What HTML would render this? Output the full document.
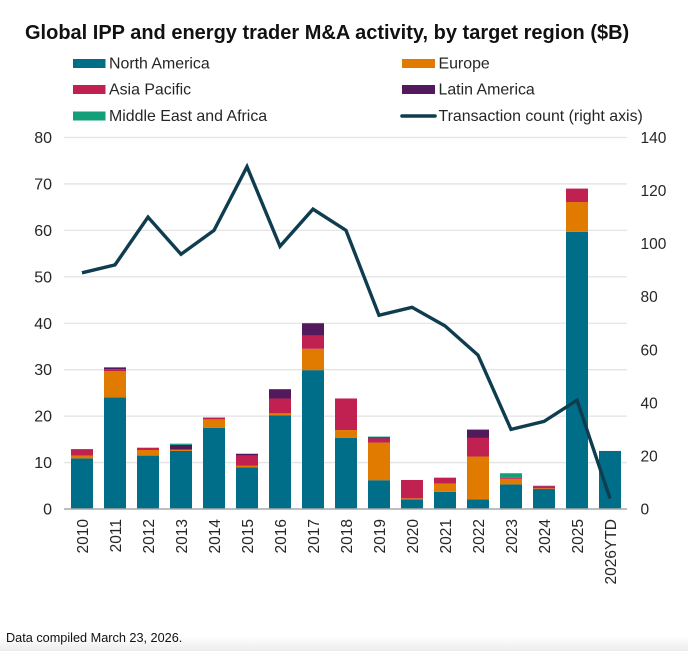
<!DOCTYPE html>
<html>
<head>
<meta charset="utf-8">
<title>Global IPP and energy trader M&amp;A activity</title>
<style>
html,body{margin:0;padding:0;background:#fff;}
body{width:688px;height:651px;overflow:hidden;position:relative;font-family:"Liberation Sans",sans-serif;}
svg{position:absolute;left:0;top:0;filter:blur(0.35px);}
text{font-family:"Liberation Sans",sans-serif;fill:#262626;}
#footer-fade{position:absolute;left:0;top:636px;width:688px;height:15px;background:linear-gradient(#fff,#ececec);}
#footnote{position:absolute;left:6px;top:631px;font-size:12.7px;color:#111;white-space:nowrap;font-family:"Liberation Sans",sans-serif;}
</style>
</head>
<body>
<div id="footer-fade"></div>
<svg id="chart" width="688" height="651" viewBox="0 0 688 651">
  <text x="25" y="39" font-size="20" font-weight="700" style="fill:#111">Global IPP and energy trader M&amp;A activity, by target region ($B)</text>
  <g id="grid"></g>
  <g id="bars"></g>
  <g id="axes"></g>
  <path id="line" fill="none" stroke="#0f3d50" stroke-width="3.4" stroke-linejoin="miter"></path>
  <g id="legend">
    <g><rect x="73" y="59" width="32.5" height="9" fill="#006d89"/><text x="109" y="68.5" font-size="15.9">North America</text></g>
    <g><rect x="402" y="59" width="33" height="9" fill="#e07b00"/><text x="438.5" y="68.5" font-size="15.9">Europe</text></g>
    <g><rect x="73" y="85" width="32.5" height="9" fill="#c02150"/><text x="109" y="94.5" font-size="15.9">Asia Pacific</text></g>
    <g><rect x="402" y="85" width="33" height="9" fill="#521a5c"/><text x="438.5" y="94.5" font-size="15.9">Latin America</text></g>
    <g><rect x="73" y="111.5" width="32.5" height="9" fill="#13a078"/><text x="109" y="121" font-size="15.9">Middle East and Africa</text></g>
    <g><line x1="402" y1="116" x2="435" y2="116" stroke="#0f3d50" stroke-width="3.6" stroke-linecap="round"/><text x="438.5" y="121" font-size="15.9">Transaction count (right axis)</text></g>
  </g>
</svg>
<div id="footnote">Data compiled March 23, 2026.</div>
<script>
const categories = ["2010","2011","2012","2013","2014","2015","2016","2017","2018","2019","2020","2021","2022","2023","2024","2025","2026YTD"];
const northAmerica = [10.9,24,11.5,12.5,17.5,9,20.2,29.9,15.3,6.2,2.1,3.7,2.1,5.3,4.3,59.7,12.5];
const europe = [0.6,5.65,1.2,0.2,1.8,0.3,0.4,4.6,1.7,8.1,0.2,1.8,9.2,1.2,0.15,6.4,0];
const asiaPacific = [1.4,0.45,0.5,0.2,0.4,2.2,3.2,2.8,6.8,0.9,3.95,1.25,4,0.25,0.45,2.9,0];
const latinAmerica = [0,0.4,0,0.9,0,0.4,2,2.7,0,0.2,0,0,1.8,0,0.1,0,0];
const middleEastAfrica = [0,0,0,0.27,0,0,0,0,0,0.2,0,0,0,0.95,0,0,0];
const transactionCount = [89,92,110,96,105,129,99,113,105,73,76,69,58,30,33,41,4];
const leftTicks = [0,10,20,30,40,50,60,70,80];
const rightTicks = [0,20,40,60,80,100,120,140];
const seriesColors = ["#006d89","#e07b00","#c02150","#521a5c","#13a078"];
const seriesNames = ["north-america","europe","asia-pacific","latin-america","middle-east-africa"];
const allSeries = [northAmerica,europe,asiaPacific,latinAmerica,middleEastAfrica];

const NS = "http://www.w3.org/2000/svg";
const plotLeft = 64, plotRight = 627, plotBottom = 509, plotTop = 137.5;
const yLeft = v => plotBottom - (v / 80) * (plotBottom - plotTop);
const yRight = v => plotBottom - (v / 140) * (plotBottom - plotTop);
const xCenter = i => 82 + i * 33;
const barWidth = 22;

function make(tag, attrs, parent) {
  const el = document.createElementNS(NS, tag);
  for (const k in attrs) el.setAttribute(k, attrs[k]);
  parent.appendChild(el);
  return el;
}

const gridG = document.getElementById("grid");
const barsG = document.getElementById("bars");
const axesG = document.getElementById("axes");

leftTicks.forEach(t => {
  if (t !== 0) {
    const g = make("line", {x1: plotLeft, x2: plotRight, y1: yLeft(t), y2: yLeft(t), stroke: "#e4e4e4", "stroke-width": 1.3}, gridG);
    
    
  }
  const lab = make("text", {x: 52, y: yLeft(t) + 5.5, "font-size": 16, "text-anchor": "end"}, axesG);
  
  
  lab.textContent = t;
});

rightTicks.forEach(t => {
  const lab = make("text", {x: 640.5, y: yRight(t) + 5.5, "font-size": 15.5}, axesG);
  
  
  lab.textContent = t;
});

categories.forEach((c, i) => {
  let base = 0;
  allSeries.forEach((s, k) => {
    const v = s[i];
    if (v > 0) {
      const r = make("rect", {x: xCenter(i) - barWidth / 2, y: yLeft(base + v), width: barWidth, height: yLeft(base) - yLeft(base + v), fill: seriesColors[k]}, barsG);
      
      
    }
    base += v;
  });
  const cx = xCenter(i) + 6;
  const lab = make("text", {x: cx, y: 519, "font-size": 15.5, "text-anchor": "end", transform: "rotate(-90 " + cx + " 519)"}, axesG);
  
  
  lab.textContent = c;
});

const baseline = make("line", {x1: plotLeft, x2: plotRight, y1: plotBottom, y2: plotBottom, stroke: "#a8a8a8", "stroke-width": 1.4}, axesG);



document.getElementById("line").setAttribute("d",
  transactionCount.map((v, i) => (i ? "L" : "M") + xCenter(i) + " " + yRight(v)).join(" "));
</script>
</body>
</html>
